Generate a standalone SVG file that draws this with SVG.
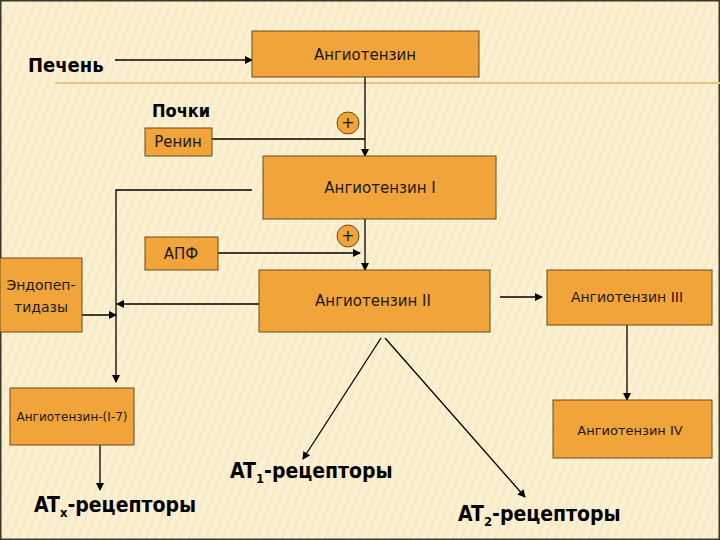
<svg xmlns="http://www.w3.org/2000/svg" width="720" height="540" viewBox="0 0 720 540">
<defs>
<marker id="ah" markerWidth="8" markerHeight="8" refX="7" refY="4" orient="auto" markerUnits="userSpaceOnUse"><path d="M0,0 L8,4 L0,8 Z" fill="#000"/></marker>
<pattern id="st" width="8" height="8" patternUnits="userSpaceOnUse" patternTransform="rotate(20)"><rect width="8" height="8" fill="#fbf1d2"/><rect width="3" height="8" fill="#f5e6bb" opacity="0.6"/></pattern>
</defs>
<style>
.box{fill:#f0a43a;stroke:#6b4a1c;stroke-width:1}
.t{font-family:Tahoma,"DejaVu Sans",sans-serif;font-size:14px;fill:#1a1a1a;text-anchor:middle}
.b{font-family:"DejaVu Sans Condensed","DejaVu Sans",sans-serif;font-weight:bold;font-size:21px;fill:#000}
.ln{stroke:#000;stroke-width:1.3;fill:none}
.pl{fill:#f0a43a;stroke:#6b4a1c}
</style>
<rect width="720" height="540" fill="url(#st)"/>
<rect x="0" y="0" width="720" height="540" fill="none" stroke="#3a3a2a" stroke-width="3"/>
<line x1="55" y1="83" x2="720" y2="83" stroke="#e3c77e" stroke-width="2"/>
<g id="connectors">
<line class="ln" x1="115" y1="60" x2="252" y2="60" marker-end="url(#ah)"/>
<line class="ln" x1="365" y1="77" x2="365" y2="156" marker-end="url(#ah)"/>
<line class="ln" x1="212" y1="139" x2="365" y2="139"/>
<polyline class="ln" points="252,190 116,190 116,382" marker-end="url(#ah)"/>
<line class="ln" x1="218" y1="253" x2="360" y2="253" marker-end="url(#ah)"/>
<line class="ln" x1="365" y1="219" x2="365" y2="270" marker-end="url(#ah)"/>
<line class="ln" x1="259" y1="304" x2="117" y2="304" marker-end="url(#ah)"/>
<line class="ln" x1="82" y1="315" x2="116" y2="315" marker-end="url(#ah)"/>
<line class="ln" x1="500" y1="297" x2="542" y2="297" marker-end="url(#ah)"/>
<line class="ln" x1="627" y1="325" x2="627" y2="400" marker-end="url(#ah)"/>
<line class="ln" x1="100" y1="445" x2="100" y2="490" marker-end="url(#ah)"/>
<line class="ln" x1="381" y1="338" x2="303" y2="459" marker-end="url(#ah)"/>
<line class="ln" x1="385" y1="338" x2="525" y2="497" marker-end="url(#ah)"/>
</g>
<g id="plus1"><circle class="pl" cx="348" cy="123" r="11"/><text class="t" x="348" y="128" style="font-size:16px">+</text></g>
<g id="plus2"><circle class="pl" cx="348" cy="236" r="11"/><text class="t" x="348" y="241" style="font-size:16px">+</text></g>
<g id="pechen"><text class="b" x="28" y="72" style="font-size:20px">Печень</text></g>
<g id="pochki"><text class="b" x="152" y="117" style="font-size:18px">Почки</text></g>
<g id="angiotensin"><rect class="box" x="252" y="31" width="227" height="46"/><text class="t" x="365" y="60" style="font-size:15px">Ангиотензин</text></g>
<g id="renin"><rect class="box" x="145" y="128" width="67" height="28"/><text class="t" x="178" y="147" style="font-size:15px">Ренин</text></g>
<g id="ang1"><rect class="box" x="263" y="156" width="233" height="63"/><text class="t" x="380" y="193" style="font-size:15px">Ангиотензин I</text></g>
<g id="apf"><rect class="box" x="145" y="237" width="73" height="33"/><text class="t" x="181" y="259" style="font-size:15px">АПФ</text></g>
<g id="ang2"><rect class="box" x="259" y="270" width="231" height="62"/><text class="t" x="373" y="306" style="font-size:15px">Ангиотензин II</text></g>
<g id="endo"><rect class="box" x="0" y="258" width="82" height="74"/><text class="t" x="41" y="290">Эндопеп-</text><text class="t" x="41" y="312">тидазы</text></g>
<g id="ang3"><rect class="box" x="547" y="270" width="165" height="55"/><text class="t" x="627" y="302">Ангиотензин III</text></g>
<g id="ang17"><rect class="box" x="10" y="388" width="124" height="57"/><text class="t" x="72" y="421" style="font-size:12px">Ангиотензин-(I-7)</text></g>
<g id="ang4"><rect class="box" x="553" y="400" width="159" height="58"/><text class="t" x="630" y="435" style="font-size:13px">Ангиотензин IV</text></g>
<g id="at1"><text class="b" x="230" y="478">AT<tspan font-size="13" dy="5">1</tspan><tspan dy="-5">-рецепторы</tspan></text></g>
<g id="atx"><text class="b" x="34" y="512">AT<tspan font-size="13" dy="5">x</tspan><tspan dy="-5">-рецепторы</tspan></text></g>
<g id="at2"><text class="b" x="458" y="521">AT<tspan font-size="13" dy="5">2</tspan><tspan dy="-5">-рецепторы</tspan></text></g>
</svg>
